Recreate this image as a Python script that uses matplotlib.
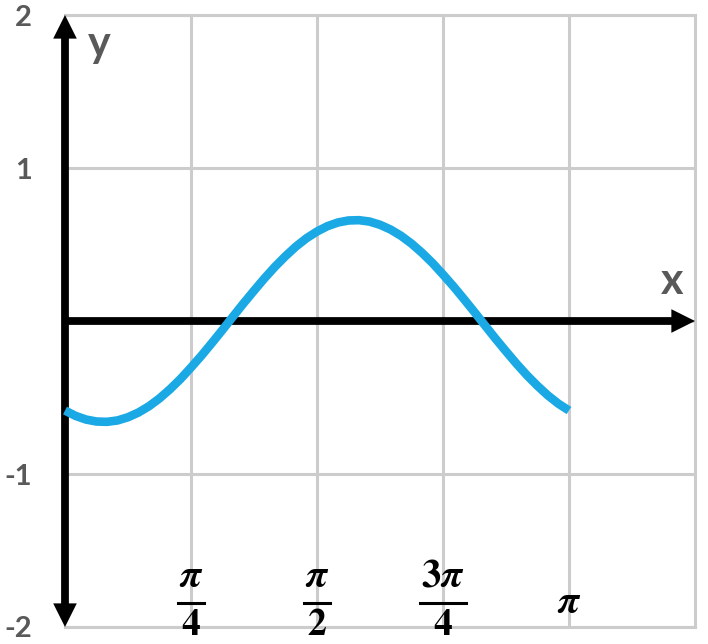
import numpy as np
import matplotlib
matplotlib.use('Agg')
import matplotlib.pyplot as plt
from matplotlib.patches import FancyArrowPatch

plt.rcParams['mathtext.fontset'] = 'stix'

# curve, x in steps of pi/48
x_vals = np.arange(49) * np.pi / 48
y_vals = [-0.585, -0.620, -0.644, -0.657, -0.659, -0.650, -0.629, -0.598,
          -0.557, -0.506, -0.446, -0.379, -0.304, -0.226, -0.143, -0.058,
          0.029, 0.115, 0.198, 0.279, 0.355, 0.424, 0.487, 0.541,
          0.585, 0.620, 0.644, 0.657, 0.659, 0.650, 0.629, 0.598,
          0.557, 0.506, 0.446, 0.379, 0.304, 0.226, 0.143, 0.058,
          -0.029, -0.115, -0.198, -0.279, -0.355, -0.424, -0.487, -0.541,
          -0.585]

x_ticks = [np.pi / 4, np.pi / 2, 3 * np.pi / 4, np.pi]
y_ticks = [-2, -1, 0, 1, 2]
y_ticklabels = ['-2', '-1', '', '1', '2']
# (numerator, denominator) for x labels
x_labels = [(r'$\boldsymbol{\pi}$', r'$\mathbf{4}$'),
            (r'$\boldsymbol{\pi}$', r'$\mathbf{2}$'),
            (r'$\mathbf{3}\boldsymbol{\pi}$', r'$\mathbf{4}$'),
            (r'$\boldsymbol{\pi}$', None)]

grid_col = '#cccccc'
gray_txt = '#595959'

fig = plt.figure(figsize=(7.08, 6.44), dpi=100)
ax = fig.add_axes([0.0918, 0.0264, 0.8898, 0.9503])
ax.set_xlim(0, 5 * np.pi / 4)
ax.set_ylim(-2, 2)

ax.set_xticks(x_ticks)
ax.set_xticklabels([''] * len(x_ticks))
ax.set_yticks(y_ticks)
ax.set_yticklabels(y_ticklabels, fontfamily=['Lato', 'DejaVu Sans'],
                   fontweight='bold', fontsize=21, color=gray_txt)
ax.tick_params(length=0, pad=24)
ax.grid(True, color=grid_col, lw=2.2, zorder=0)
for s in ['top', 'right', 'bottom']:
    ax.spines[s].set_color(grid_col)
    ax.spines[s].set_linewidth(2.2)
ax.spines['left'].set_visible(False)
ax.set_axisbelow(True)

# axes with arrow heads
arrow_kw = dict(arrowstyle='simple,head_length=17,head_width=17,tail_width=5.6',
                mutation_scale=1, color='black', lw=0, shrinkA=0, shrinkB=0,
                clip_on=False, zorder=3)
ax.add_patch(FancyArrowPatch((0, 0), (5 * np.pi / 4, 0), **arrow_kw))
ax.add_patch(FancyArrowPatch((0, 0), (0, 2), **arrow_kw))
ax.add_patch(FancyArrowPatch((0, 0), (0, -2), **arrow_kw))

# curve
ax.plot(x_vals, y_vals, color='#1aa9e4', lw=6.2, solid_capstyle='butt',
        solid_joinstyle='round', zorder=4, clip_on=False)

# axis names
ax.text(5 * np.pi / 4 - 0.145, 0.26, 'x', fontfamily=['Lato', 'DejaVu Sans'],
        fontweight='bold', fontsize=31, color=gray_txt, ha='center', va='center')
ax.text(0.215, 1.81, 'y', fontfamily=['Lato', 'DejaVu Sans'],
        fontweight='bold', fontsize=31, color=gray_txt, ha='center', va='center')

# fraction labels under the grid lines
for xt, (num, den) in zip(x_ticks, x_labels):
    if den is None:
        ax.text(xt, -1.837, num, fontsize=28, ha='center', va='center')
        continue
    half = 0.08 if len(num) < 25 else 0.143
    ax.text(xt, -1.665, num, fontsize=28, ha='center', va='center')
    ax.plot([xt - half, xt + half], [-1.84, -1.84], color='black', lw=2.2,
            clip_on=False, zorder=5)
    ax.text(xt, -1.99, den, fontsize=27, ha='center', va='center')

plt.savefig('out.png', dpi=100)
